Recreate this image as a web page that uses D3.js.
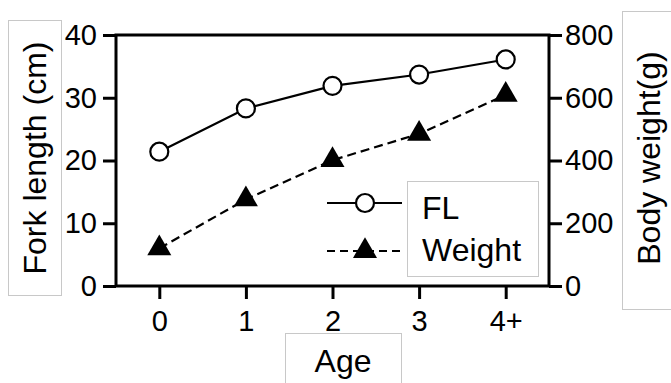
<!DOCTYPE html>
<html lang="en">
<head>
  <meta charset="UTF-8">
  <title>Fork length and body weight by age</title>
  <script src="https://d3js.org/d3.v7.min.js"></script>
  <style>
    body { margin: 0; background: #fff; }
    text { font-family: "Liberation Sans", Arial, sans-serif; fill: #000; }
  </style>
</head>
<body>
  <svg id="chart" width="671" height="383"></svg>
  <script>
    // data
    const ages = ["0", "1", "2", "3", "4+"];
    const forkLength = [21.4, 28.3, 31.9, 33.7, 36.1];
    const bodyWeight = [120, 276, 401, 485, 609];
    const leftTicks = [0, 10, 20, 30, 40];
    const rightTicks = [0, 200, 400, 600, 800];

    const svg = d3.select("#chart");
    const plot = { left: 116, right: 549, top: 35, bottom: 286 };

    const x = d3.scalePoint().domain(ages).range([plot.left, plot.right]).padding(0.5);
    const yL = d3.scaleLinear().domain([0, 40]).range([plot.bottom, plot.top]);
    const yR = d3.scaleLinear().domain([0, 800]).range([plot.bottom, plot.top]);

    // axis title boxes
    const boxStroke = "#c8c8c8";
    svg.append("rect").attr("x", 8.5).attr("y", 20.5).attr("width", 53).attr("height", 275)
      .attr("fill", "none").attr("stroke", boxStroke);
    svg.append("rect").attr("x", 622.5).attr("y", 11.5).attr("width", 60).attr("height", 298)
      .attr("fill", "none").attr("stroke", boxStroke);
    svg.append("rect").attr("x", 285.5).attr("y", 333.5).attr("width", 116).attr("height", 60)
      .attr("fill", "none").attr("stroke", boxStroke);

    svg.append("text").attr("transform", "translate(46,158) rotate(-90)")
      .attr("text-anchor", "middle").style("font-size", "32px").text("Fork length (cm)");
    svg.append("text").attr("transform", "translate(660,158) rotate(-90)")
      .attr("text-anchor", "middle").style("font-size", "32px").text("Body weight(g)");
    svg.append("text").attr("x", 343).attr("y", 372)
      .attr("text-anchor", "middle").style("font-size", "32px").text("Age");

    // axes
    const styleAxis = g => {
      g.select(".domain").remove();
      g.selectAll(".tick line").attr("stroke", "#000").attr("stroke-width", 3);
      g.selectAll(".tick text").style("font-size", "29px").attr("font-family", null);
    };

    svg.append("g").attr("transform", `translate(${plot.left},0)`)
      .call(d3.axisLeft(yL).tickValues(leftTicks).tickSize(13).tickPadding(6))
      .call(styleAxis);
    svg.append("g").attr("transform", `translate(${plot.right},0)`)
      .call(d3.axisRight(yR).tickValues(rightTicks).tickSize(13).tickPadding(3))
      .call(styleAxis);
    svg.append("g").attr("transform", `translate(0,${plot.bottom})`)
      .call(d3.axisBottom(x).tickSize(13).tickPadding(11))
      .call(styleAxis);

    svg.append("rect")
      .attr("x", plot.left).attr("y", plot.top)
      .attr("width", plot.right - plot.left).attr("height", plot.bottom - plot.top)
      .attr("fill", "none").attr("stroke", "#000").attr("stroke-width", 3);

    // weight series (dashed, filled triangles)
    const weightLine = d3.line().x((d, i) => x(ages[i])).y(d => yR(d));
    svg.append("path").datum(bodyWeight)
      .attr("d", weightLine).attr("fill", "none")
      .attr("stroke", "#000").attr("stroke-width", 2.2).attr("stroke-dasharray", "9,5");
    const tri = d3.symbol().type(d3.symbolTriangle).size(250);
    svg.selectAll(".wt").data(bodyWeight).join("path")
      .attr("class", "wt")
      .attr("transform", (d, i) => `translate(${x(ages[i])},${yR(d)})`)
      .attr("d", tri).attr("fill", "#000");

    // fork length series (solid, open circles)
    const flLine = d3.line().x((d, i) => x(ages[i])).y(d => yL(d));
    svg.append("path").datum(forkLength)
      .attr("d", flLine).attr("fill", "none")
      .attr("stroke", "#000").attr("stroke-width", 2.2);
    svg.selectAll(".fl").data(forkLength).join("circle")
      .attr("class", "fl")
      .attr("cx", (d, i) => x(ages[i])).attr("cy", d => yL(d)).attr("r", 9)
      .attr("fill", "#fff").attr("stroke", "#000").attr("stroke-width", 2.2);

    // legend
    const legend = svg.append("g");
    legend.append("rect").attr("x", 407.5).attr("y", 181.5).attr("width", 131).attr("height", 95)
      .attr("fill", "#fff").attr("stroke", boxStroke);
    legend.append("line").attr("x1", 327).attr("x2", 402).attr("y1", 203).attr("y2", 203)
      .attr("stroke", "#000").attr("stroke-width", 2.2);
    legend.append("circle").attr("cx", 365).attr("cy", 203).attr("r", 9)
      .attr("fill", "#fff").attr("stroke", "#000").attr("stroke-width", 2.2);
    legend.append("line").attr("x1", 327).attr("x2", 402).attr("y1", 251).attr("y2", 251)
      .attr("stroke", "#000").attr("stroke-width", 2.2).attr("stroke-dasharray", "8,5");
    legend.append("path").attr("transform", "translate(365,251)").attr("d", tri).attr("fill", "#000");
    legend.append("text").attr("x", 422).attr("y", 219).style("font-size", "32px").text("FL");
    legend.append("text").attr("x", 422).attr("y", 261).style("font-size", "32px").text("Weight");
  </script>
</body>
</html>
